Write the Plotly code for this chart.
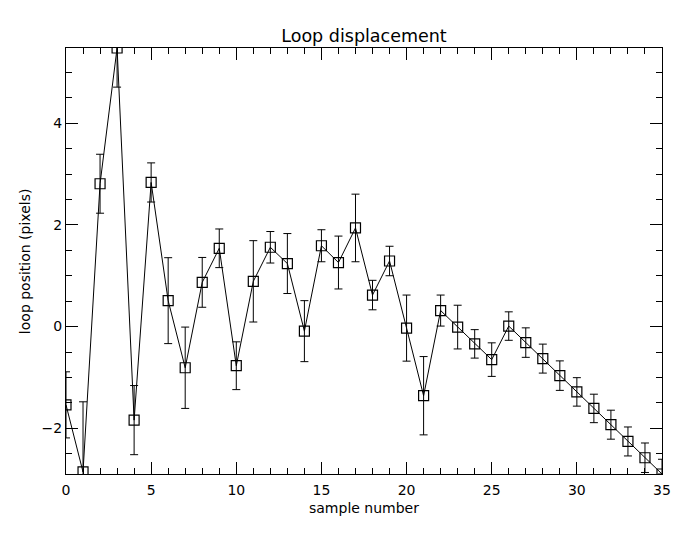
import plotly.graph_objects as go

# data
sample = list(range(36))
position = [-1.54, -2.86, 2.81, 5.48, -1.84, 2.835, 0.51, -0.81, 0.87, 1.54,
            -0.77, 0.89, 1.56, 1.24, -0.09, 1.59, 1.26, 1.94, 0.62, 1.29,
            -0.03, -1.36, 0.315, -0.01, -0.34, -0.65, 0.01, -0.315, -0.63, -0.965,
            -1.285, -1.61, -1.93, -2.26, -2.58, -2.9]
err_plus = [0.65, 1.38, 0.58, 0.77, 0.68, 0.385, 0.845, 0.8, 0.49, 0.38,
            0.47, 0.8, 0.31, 0.59, 0.6, 0.315, 0.52, 0.665, 0.29, 0.29,
            0.65, 0.77, 0.305, 0.43, 0.28, 0.33, 0.28, 0.29, 0.285, 0.29,
            0.28, 0.28, 0.285, 0.285, 0.29, 0.29]
err_minus = [0.65, 1.38, 0.58, 0.77, 0.68, 0.385, 0.845, 0.8, 0.49, 0.38,
             0.47, 0.8, 0.31, 0.59, 0.6, 0.315, 0.52, 0.665, 0.29, 0.29,
             0.65, 0.77, 0.305, 0.43, 0.28, 0.33, 0.28, 0.29, 0.285, 0.29,
             0.28, 0.28, 0.285, 0.285, 0.29, 0.0]
x_ticks = [0, 5, 10, 15, 20, 25, 30, 35]
y_ticks = [-2, 0, 2, 4]
y_ticklabels = ["\u22122", "0", "2", "4"]
title_text = "Loop displacement"
x_title = "sample number"
y_title = "loop position (pixels)"

FONT = "DejaVu Sans"

fig = go.Figure()
# error bars (not clipped at the frame)
fig.add_trace(go.Scatter(
    x=sample, y=position, mode="markers",
    marker=dict(size=1, color="rgba(0,0,0,0)"),
    error_y=dict(type="data", symmetric=False, array=err_plus, arrayminus=err_minus,
                 color="black", thickness=1, width=4),
    cliponaxis=False, hoverinfo="skip", showlegend=False))
# line + open squares (clipped at the frame)
fig.add_trace(go.Scatter(
    x=sample, y=position, mode="lines+markers",
    line=dict(color="black", width=1),
    marker=dict(symbol="square-open", size=10, color="black", line=dict(width=1.2)),
    cliponaxis=True, showlegend=False))

axis_common = dict(
    showgrid=False, zeroline=False, showline=True, linecolor="black", linewidth=1,
    mirror="allticks", ticks="inside", tickcolor="black", tickwidth=1, ticklen=12,
    tickfont=dict(family=FONT, size=14, color="black"),
)
fig.update_xaxes(range=[0, 35], tickvals=x_ticks, ticktext=[str(v) for v in x_ticks],
                 ticklabelstandoff=3,
                 minor=dict(dtick=1, ticks="inside", ticklen=6, tickcolor="black", tickwidth=1),
                 **axis_common)
fig.update_yaxes(range=[-2.9, 5.48], tickvals=y_ticks, ticktext=y_ticklabels,
                 minor=dict(dtick=0.5, tick0=0, ticks="inside", ticklen=6, tickcolor="black", tickwidth=1),
                 **axis_common)

fig.update_layout(
    width=683, height=539,
    margin=dict(l=66, r=19, t=48, b=65),
    paper_bgcolor="white", plot_bgcolor="white",
    title=dict(text=title_text, x=0.5, xref="paper", y=1 - 36 / 539, yref="container",
               xanchor="center", yanchor="middle",
               font=dict(family=FONT, size=17.5, color="black")),
)
fig.add_annotation(text=x_title, xref="paper", yref="paper", x=0.5,
                   y=-(508 - 474) / 426, showarrow=False,
                   font=dict(family=FONT, size=14, color="black"),
                   xanchor="center", yanchor="middle")
fig.add_annotation(text=y_title, xref="paper", yref="paper",
                   x=-(66 - 25) / 598, y=(474 - 261) / 426, textangle=-90, showarrow=False,
                   font=dict(family=FONT, size=14, color="black"),
                   xanchor="center", yanchor="middle")

fig.write_html("out.html")
